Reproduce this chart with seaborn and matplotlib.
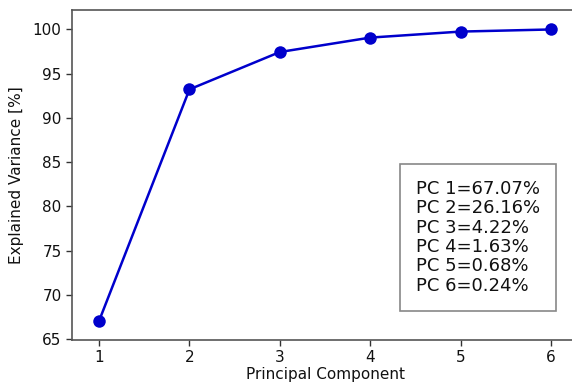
import matplotlib
matplotlib.use("Agg")
import matplotlib.pyplot as plt
import seaborn as sns
import pandas as pd

components = [1, 2, 3, 4, 5, 6]
individual = [67.07, 26.16, 4.22, 1.63, 0.68, 0.24]
cumulative = [67.07, 93.23, 97.45, 99.08, 99.76, 100.00]

sns.set_style("white")
plt.rcParams['font.family'] = ['DejaVu Sans']

df = pd.DataFrame({"pc": components, "cum": cumulative})

fig = plt.figure(figsize=(5.72, 3.84), dpi=100)
ax = fig.add_axes([72/572, 44/384, 506/572, 330/384])
sns.lineplot(data=df, x="pc", y="cum", ax=ax, color="#0000cc", marker="o",
             markersize=9, markeredgewidth=0, linewidth=1.8)

ax.set_xlim(0.7, 6.3)
ax.set_ylim(64.9, 102.2)
ax.set_xticks(components)
ax.set_yticks([65, 70, 75, 80, 85, 90, 95, 100])
ax.tick_params(axis="both", labelsize=11, length=4, width=1, color="#333333",
               left=True, bottom=True, labelcolor="#111111")
for s in ax.spines.values():
    s.set_color("#555555")
    s.set_linewidth(1.2)
ax.set_xlabel("Principal Component", fontsize=11, labelpad=1, color="#111111")
ax.set_ylabel("Explained Variance [%]", fontsize=11, labelpad=6, color="#111111")

txt = "\n".join(f"PC {c}={v:.2f}%" for c, v in zip(components, individual))
ax.text(0.680, 0.311, txt, transform=ax.transAxes, fontsize=13,
        ha="left", va="center", linespacing=1.1, color="#111111",
        bbox=dict(boxstyle="square,pad=0.9", facecolor="white",
                  edgecolor="#888888", linewidth=1.2))

fig.savefig("out.png", dpi=100)
